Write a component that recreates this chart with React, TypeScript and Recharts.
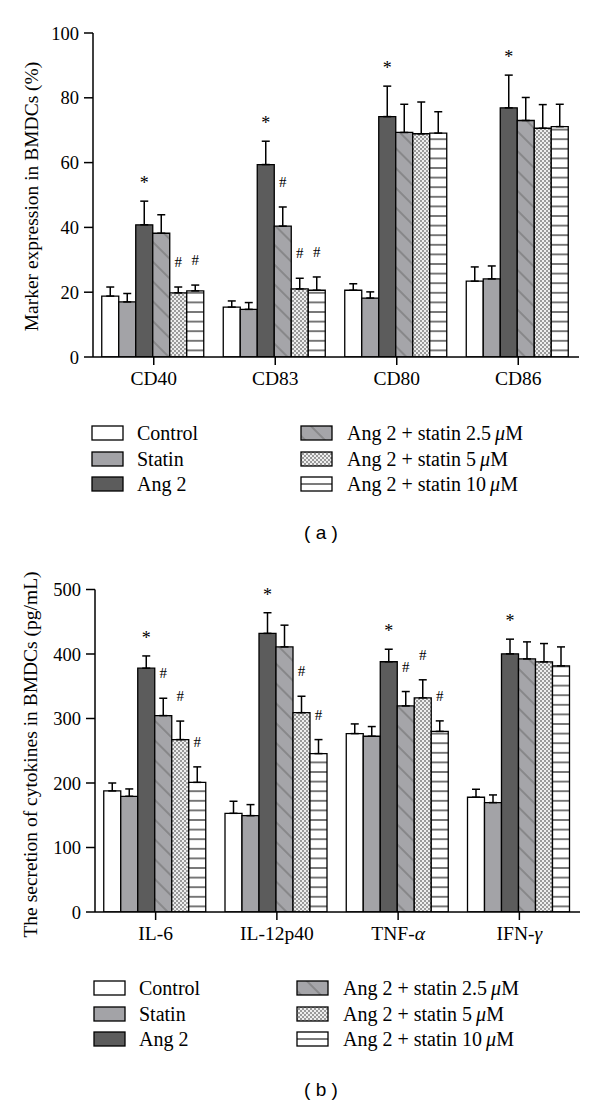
import React from "react";
import { Bar, BarChart, ErrorBar, LabelList, XAxis, YAxis } from "recharts";

// (a) surface markers, %
const markerCategories = ["CD40", "CD83", "CD80", "CD86"];
const markerTicks = [0, 20, 40, 60, 80, 100];
const markerControl = [18.8, 15.4, 20.6, 23.4];
const markerControlErr = [2.8, 1.9, 2.0, 4.4];
const markerStatin = [17.0, 14.7, 18.2, 24.1];
const markerStatinErr = [2.6, 2.1, 1.9, 4.0];
const markerAng2 = [40.8, 59.4, 74.2, 76.9];
const markerAng2Err = [7.3, 7.2, 9.4, 10.1];
const markerS25 = [38.2, 40.4, 69.3, 73.0];
const markerS25Err = [5.7, 5.9, 8.7, 7.1];
const markerS5 = [19.8, 21.0, 68.9, 70.6];
const markerS5Err = [1.8, 3.3, 9.8, 7.3];
const markerS10 = [20.4, 20.6, 69.1, 71.1];
const markerS10Err = [1.8, 4.1, 6.6, 6.9];
const markerAng2Marks = ["*", "*", "*", "*"];
const markerS25Marks = ["", "#", "", ""];
const markerS5Marks = ["#", "#", "", ""];
const markerS10Marks = ["#", "#", "", ""];

// (b) cytokines, pg/mL
const cytoCategories = ["IL-6", "IL-12p40", "TNF-α", "IFN-γ"];
const cytoTicks = [0, 100, 200, 300, 400, 500];
const cytoControl = [187.7, 153, 276.6, 177.9];
const cytoControlErr = [12.3, 18.7, 15, 12.4];
const cytoStatin = [179.4, 149.4, 272.5, 169.6];
const cytoStatinErr = [11.4, 17.1, 15, 11.9];
const cytoAng2 = [378, 432, 388, 400.2];
const cytoAng2Err = [19, 32, 19.4, 22.8];
const cytoS25 = [304.5, 411, 319.5, 392.4];
const cytoS25Err = [26.9, 33.7, 22.3, 26.4];
const cytoS5 = [267.3, 309, 332, 387.8];
const cytoS5Err = [28.7, 25.5, 28, 28.4];
const cytoS10 = [201, 245.6, 280, 381.6];
const cytoS10Err = [24, 21.7, 16.3, 29.4];
const cytoAng2Marks = ["*", "*", "*", "*"];
const cytoS25Marks = ["#", "", "#", ""];
const cytoS5Marks = ["#", "#", "#", ""];
const cytoS10Marks = ["#", "#", "#", ""];

const seriesKeys = ["control", "statin", "ang2", "s25", "s5", "s10"];
const seriesLabels = [
  "Control",
  "Statin",
  "Ang 2",
  "Ang 2 + statin 2.5 μM",
  "Ang 2 + statin 5 μM",
  "Ang 2 + statin 10 μM"
];
const seriesFills = ["#ffffff", "#a3a3a7", "#5c5c5c", "url(#pDiag)", "url(#pCheck)", "url(#pHoriz)"];
const legendFills = ["#ffffff", "#a3a3a7", "#5c5c5c", "url(#pDiag)", "url(#pCheck)", "url(#lHoriz)"];

const SERIF = "'Liberation Serif', 'Times New Roman', serif";

type Row = Record<string, any>;

function buildRows(
  cats: string[],
  values: number[][],
  errs: number[][],
  marks: (string[] | null)[]
): Row[] {
  return cats.map((name, i) => {
    const row: Row = { name };
    seriesKeys.forEach((k, s) => {
      row[k] = values[s][i];
      row[k + "Err"] = [0, errs[s][i]];
      row[k + "Mark"] = marks[s] ? marks[s]![i] : "";
    });
    return row;
  });
}

const markerRows = buildRows(
  markerCategories,
  [markerControl, markerStatin, markerAng2, markerS25, markerS5, markerS10],
  [markerControlErr, markerStatinErr, markerAng2Err, markerS25Err, markerS5Err, markerS10Err],
  [null, null, markerAng2Marks, markerS25Marks, markerS5Marks, markerS10Marks]
);

const cytoRows = buildRows(
  cytoCategories,
  [cytoControl, cytoStatin, cytoAng2, cytoS25, cytoS5, cytoS10],
  [cytoControlErr, cytoStatinErr, cytoAng2Err, cytoS25Err, cytoS5Err, cytoS10Err],
  [null, null, cytoAng2Marks, cytoS25Marks, cytoS5Marks, cytoS10Marks]
);

// star / hash sits above the error cap; cap height comes from the bar's own px-per-unit
function markContent(rows: Row[], key: string) {
  return (props: any) => {
    const { value, index } = props;
    if (!value) return null;
    const x = Number(props.x);
    const y = Number(props.y);
    const width = Number(props.width);
    const height = Number(props.height);
    const row = rows[index];
    const v = row[key];
    const err = row[key + "Err"][1];
    const capY = y - (err * height) / v;
    const star = value === "*";
    return (
      <text
        x={x + width / 2}
        y={capY - (star ? 12 : 20)}
        textAnchor="middle"
        fontSize={star ? 18 : 15}
        fontFamily={SERIF}
        fill="#000"
      >
        {value}
      </text>
    );
  };
}

function CategoryTick(props: any) {
  const { x, y, payload } = props;
  const label: string = payload.value;
  const last = label.slice(-1);
  const greek = /[α-ω]/.test(last);
  return (
    <text x={x} y={y} dy="0.71em" textAnchor="middle" fontSize={19.5} fontFamily={SERIF} fill="#000">
      {greek ? label.slice(0, -1) : label}
      {greek && <tspan fontStyle="italic">{last}</tspan>}
    </text>
  );
}

function axisTitle(text: string, cx: number, cy: number) {
  return () => (
    <text
      x={cx}
      y={cy}
      transform={`rotate(-90, ${cx}, ${cy})`}
      textAnchor="middle"
      dominantBaseline="central"
      fontSize={19.5}
      fontFamily={SERIF}
      fill="#000"
    >
      {text}
    </text>
  );
}

function GroupChart({
  rows,
  height,
  marginTop,
  marginRight,
  axisWidth,
  domain,
  ticks,
  title,
  titleX,
  titleY
}: {
  rows: Row[];
  height: number;
  marginTop: number;
  marginRight: number;
  axisWidth: number;
  domain: [number, number];
  ticks: number[];
  title: string;
  titleX: number;
  titleY: number;
}) {
  const line = { stroke: "#000", strokeWidth: 1.5 };
  return (
    <BarChart
      width={600}
      height={height}
      data={rows}
      margin={{ top: marginTop, right: marginRight, bottom: 0, left: 0 }}
      barGap={0}
      barCategoryGap={8.75}
    >
      <XAxis
        dataKey="name"
        height={40}
        tickSize={8}
        tickMargin={6}
        interval={0}
        axisLine={line}
        tickLine={line}
        tick={(p: any) => <CategoryTick {...p} />}
      />
      <YAxis
        type="number"
        domain={domain}
        ticks={ticks}
        interval={0}
        width={axisWidth}
        tickSize={9}
        tickMargin={5}
        axisLine={line}
        tickLine={line}
        allowDataOverflow
        tick={{ fill: "#000", fontSize: 18.5, fontFamily: SERIF }}
        label={axisTitle(title, titleX, titleY)}
      />
      {seriesKeys.map((k, s) => (
        <Bar
          key={k}
          dataKey={k}
          fill={seriesFills[s]}
          stroke="#000"
          strokeWidth={1.3}
          isAnimationActive={false}
        >
          <ErrorBar dataKey={k + "Err"} direction="y" width={4} stroke="#000" strokeWidth={1.5} />
          <LabelList dataKey={k + "Mark"} content={markContent(rows, k)} />
        </Bar>
      ))}
    </BarChart>
  );
}

function LegendLabel({ text }: { text: string }) {
  const parts = text.split("μ");
  if (parts.length === 1) return <>{text}</>;
  return (
    <>
      {parts[0].trimEnd()}
      {"\u2009"}
      <i>μ</i>
      {parts[1]}
    </>
  );
}

function LegendBlock({
  top,
  boxLeft,
  textLeft,
  boxRight,
  textRight
}: {
  top: number;
  boxLeft: number;
  textLeft: number;
  boxRight: number;
  textRight: number;
}) {
  return (
    <>
      {seriesLabels.map((label, s) => {
        const col = s < 3 ? 0 : 1;
        const rowCenter = top + (s % 3) * 25.5;
        return (
          <React.Fragment key={label}>
            <svg
              width={33}
              height={16}
              style={{ position: "absolute", left: (col ? boxRight : boxLeft) - 1, top: rowCenter - 8 }}
            >
              <rect x={1} y={1} width={31} height={14} fill={legendFills[s]} stroke="#000" strokeWidth={1.3} />
            </svg>
            <div
              style={{
                position: "absolute",
                left: col ? textRight : textLeft,
                top: rowCenter - 11,
                height: 22,
                lineHeight: "22px",
                fontSize: 20,
                fontFamily: SERIF,
                whiteSpace: "nowrap",
                color: "#000"
              }}
            >
              <LegendLabel text={label} />
            </div>
          </React.Fragment>
        );
      })}
    </>
  );
}

function PanelTag({ text, top }: { text: string; top: number }) {
  return (
    <div
      style={{
        position: "absolute",
        left: 271,
        width: 100,
        top: top - 12,
        height: 24,
        lineHeight: "24px",
        textAlign: "center",
        fontSize: 19,
        fontFamily: "'Liberation Sans', Arial, sans-serif",
        whiteSpace: "pre",
        color: "#000"
      }}
    >
      {text}
    </div>
  );
}

export default function App() {
  return (
    <div
      style={{
        position: "absolute",
        top: 0,
        left: 0,
        width: 600,
        height: 1105,
        background: "#fff",
        overflow: "hidden"
      }}
    >
      <svg width={0} height={0} style={{ position: "absolute" }}>
        <defs>
          <pattern id="pDiag" patternUnits="userSpaceOnUse" width={14} height={14} patternTransform="rotate(45)">
            <rect width={14} height={14} fill="#a5a5a9" />
            <line x1={0} y1={7} x2={14} y2={7} stroke="#6a6a6a" strokeWidth={1} />
          </pattern>
          <pattern id="pCheck" patternUnits="userSpaceOnUse" width={4} height={4}>
            <rect width={4} height={4} fill="#eeeeee" />
            <rect width={2} height={2} fill="#9a9a9a" />
            <rect x={2} y={2} width={2} height={2} fill="#9a9a9a" />
          </pattern>
          <pattern id="pHoriz" patternUnits="userSpaceOnUse" width={10} height={9.6}>
            <rect width={10} height={9.6} fill="#fff" />
            <line x1={0} y1={4.8} x2={10} y2={4.8} stroke="#222" strokeWidth={1.2} />
          </pattern>
          <pattern id="lHoriz" patternUnits="userSpaceOnUse" width={10} height={16}>
            <rect width={10} height={16} fill="#fff" />
            <line x1={0} y1={8} x2={10} y2={8} stroke="#222" strokeWidth={1.2} />
          </pattern>
        </defs>
      </svg>

      <div style={{ position: "absolute", top: 0, left: 0 }}>
        <GroupChart
          rows={markerRows}
          height={397}
          marginTop={33}
          marginRight={21}
          axisWidth={93}
          domain={[0, 100]}
          ticks={markerTicks}
          title="Marker expression in BMDCs (%)"
          titleX={31}
          titleY={196.5}
        />
      </div>
      <LegendBlock top={433} boxLeft={92} textLeft={137} boxRight={301} textRight={347} />
      <PanelTag text="( a )" top={533} />

      <div style={{ position: "absolute", top: 556, left: 0 }}>
        <GroupChart
          rows={cytoRows}
          height={396}
          marginTop={33.5}
          marginRight={20}
          axisWidth={95}
          domain={[0, 500]}
          ticks={cytoTicks}
          title="The secretion of cytokines in BMDCs (pg/mL)"
          titleX={30}
          titleY={198.5}
        />
      </div>
      <LegendBlock top={988} boxLeft={94} textLeft={139} boxRight={297} textRight={343} />
      <PanelTag text="( b )" top={1090} />
    </div>
  );
}
